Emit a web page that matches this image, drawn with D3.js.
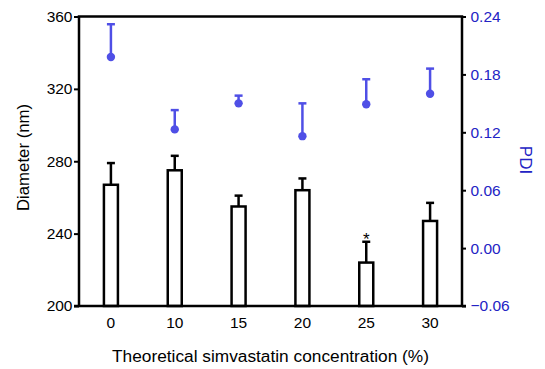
<!DOCTYPE html>
<html>
<head>
<meta charset="utf-8">
<script src="https://cdn.jsdelivr.net/npm/d3@7"></script>
<style>
  body { margin: 0; background: #fff; }
  text { font-family: Arial, 'Liberation Sans', sans-serif; }
</style>
</head>
<body>
<script>
const w = 545,
  h = 369;

const categories = ['0', '10', '15', '20', '25', '30'];
const diameter = [267, 275, 255, 264, 224, 247];
const diameterSd = [12, 8, 6, 6.5, 11.5, 10];
const pdi = [0.198, 0.123, 0.150, 0.116, 0.149, 0.160];
const pdiSd = [0.034, 0.020, 0.008, 0.034, 0.026, 0.026];
const starred = ['25'];
const leftTicks = [200, 240, 280, 320, 360];
const rightTicks = [-0.06, 0.00, 0.06, 0.12, 0.18, 0.24];

const plotL = 79, plotR = 462, plotT = 16.5, plotB = 306;
const blue = '#4f4fe6';
const blueText = '#2323c4';

const svg = d3.select('body')
  .append('svg')
  .attr('width', w)
  .attr('height', h);

const xScale = d3.scaleBand()
  .domain(categories)
  .range([plotL, plotR])
  .paddingInner(0)
  .paddingOuter(0);

const yScale = d3.scaleLinear()
  .domain([200, 360])
  .range([plotB, plotT]);

const y2Scale = d3.scaleLinear()
  .domain([-0.06, 0.24])
  .range([plotB, plotT]);

const cx = d => xScale(d) + xScale.bandwidth() / 2;
const barW = 14;

// bars
svg.selectAll('rect.bar')
  .data(categories)
  .enter()
  .append('rect')
  .attr('class', 'bar')
  .attr('x', d => cx(d) - barW / 2)
  .attr('y', (d, i) => yScale(diameter[i]))
  .attr('width', barW)
  .attr('height', (d, i) => plotB - yScale(diameter[i]))
  .attr('fill', '#fff')
  .attr('stroke', '#000')
  .attr('stroke-width', 2.5);

// bar error bars (upper only)
const barErr = svg.append('g');
categories.forEach((c, i) => {
  const y0 = yScale(diameter[i]), y1 = yScale(diameter[i] + diameterSd[i]);
  barErr.append('line')
    .attr('x1', cx(c)).attr('x2', cx(c))
    .attr('y1', y0).attr('y2', y1)
    .attr('stroke', '#000').attr('stroke-width', 2.5);
  barErr.append('line')
    .attr('x1', cx(c) - 4).attr('x2', cx(c) + 4)
    .attr('y1', y1).attr('y2', y1)
    .attr('stroke', '#000').attr('stroke-width', 2.5);
});

// significance
svg.selectAll('text.star')
  .data(starred)
  .enter()
  .append('text')
  .attr('class', 'star')
  .attr('x', d => cx(d))
  .attr('y', d => yScale(diameter[categories.indexOf(d)] + diameterSd[categories.indexOf(d)]) + 3)
  .attr('text-anchor', 'middle')
  .attr('font-size', 17)
  .text('*');

// PDI error bars + points
const pdiG = svg.append('g');
categories.forEach((c, i) => {
  const y0 = y2Scale(pdi[i]), y1 = y2Scale(pdi[i] + pdiSd[i]);
  pdiG.append('line')
    .attr('x1', cx(c)).attr('x2', cx(c))
    .attr('y1', y0).attr('y2', y1)
    .attr('stroke', blue).attr('stroke-width', 2.5);
  pdiG.append('line')
    .attr('x1', cx(c) - 4).attr('x2', cx(c) + 4)
    .attr('y1', y1).attr('y2', y1)
    .attr('stroke', blue).attr('stroke-width', 2.5);
});
svg.selectAll('circle')
  .data(categories)
  .enter()
  .append('circle')
  .attr('cx', d => cx(d))
  .attr('cy', (d, i) => y2Scale(pdi[i]))
  .attr('r', 4.2)
  .attr('fill', blue);

// axes
const yAxis = d3.axisLeft(yScale)
  .tickValues(leftTicks)
  .tickSize(5)
  .tickPadding(1.5)
  .tickFormat(d3.format('d'));

const y2Axis = d3.axisRight(y2Scale)
  .tickValues(rightTicks)
  .tickSize(4)
  .tickPadding(4.5)
  .tickFormat(d3.format('.2f'));

const xAxis = d3.axisBottom(xScale)
  .tickSize(0)
  .tickPadding(10.5);

const gy = svg.append('g')
  .attr('transform', `translate(${plotL}, 0)`)
  .call(yAxis);

const gy2 = svg.append('g')
  .attr('transform', `translate(${plotR}, 0)`)
  .call(y2Axis);

const gx = svg.append('g')
  .attr('transform', `translate(0, ${plotB})`)
  .call(xAxis);

[gy, gy2, gx].forEach(g => {
  g.select('.domain').remove();
  g.selectAll('.tick line').attr('stroke', '#000').attr('stroke-width', 2);
  g.selectAll('.tick text').attr('font-size', 15.5).attr('fill', '#000')
    .attr('font-family', "Arial, 'Liberation Sans', sans-serif");
});
gy2.selectAll('.tick text').attr('fill', blueText);

// frame lines
svg.append('path')
  .attr('d', `M${plotL},${plotB}V${plotT}H${plotR}V${plotB}`)
  .attr('fill', 'none')
  .attr('stroke', '#000')
  .attr('stroke-width', 2.5);
svg.append('line')
  .attr('x1', plotL - 5).attr('x2', plotR + 4)
  .attr('y1', plotB).attr('y2', plotB)
  .attr('stroke', '#000').attr('stroke-width', 2.5);

// titles
svg.append('text')
  .attr('transform', 'translate(29, 157.5) rotate(-90)')
  .attr('text-anchor', 'middle')
  .attr('font-size', 16.8)
  .text('Diameter (nm)');

svg.append('text')
  .attr('transform', 'translate(520, 160) rotate(90)')
  .attr('text-anchor', 'middle')
  .attr('font-size', 17)
  .attr('fill', blueText)
  .text('PDI');

svg.append('text')
  .attr('x', 270.5)
  .attr('y', 362)
  .attr('text-anchor', 'middle')
  .attr('font-size', 17.3)
  .text('Theoretical simvastatin concentration (%)');
</script>
</body>
</html>
